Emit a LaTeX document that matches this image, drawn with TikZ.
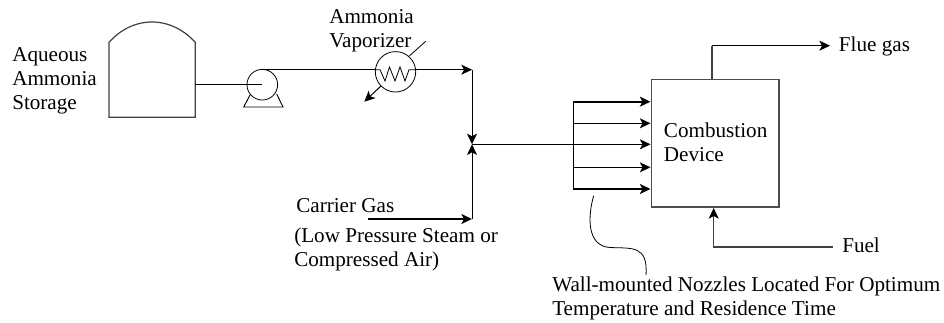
\documentclass[tikz,border=0pt]{standalone}
\usepackage{fontspec}
\setmainfont{Liberation Serif}
\usetikzlibrary{arrows.meta}
\tikzset{
  pipe/.style={draw=black,line width=0.75pt},
  heavy/.style={draw=black,line width=1.3pt},
  flow/.style={-{Stealth[length=8pt,width=7.5pt,inset=2pt]}},
  grayline/.style={draw=black!75,line width=0.9pt},
  lbl/.style={font=\fontsize{15.85pt}{18pt}\selectfont,align=left,inner sep=0pt,anchor=north west},
  unit/.style={draw=black,line width=0.6pt,fill=none,circle,inner sep=0pt}
}
\begin{document}
\begin{tikzpicture}[x=0.75pt,y=-0.75pt]
\useasboundingbox (0,0) rectangle (944,322);
% tank
\coordinate (tankR) at (195.3,84.3);
\draw[grayline] (109,42.3) .. controls (120,30) and (135,22) .. (152,22) .. controls (169,22) and (184,30) .. (195.3,42.3) -- (195.3,117.3) -- (109,117.3) -- cycle;
% pump
\node[unit,minimum size=23pt] (pump) at (262.3,84.7) {};
\coordinate (pumpC) at (262,84.3);
\coordinate (pumpT) at (262,69.7);
\draw[pipe] (tankR) -- (pumpC);
\draw[line width=0.7pt] (250,95) -- (243.7,107) -- (283,107) -- (276.7,94);
% vaporizer
\node[unit,minimum size=30.3pt] (vap) at (395.5,71.8) {};
\coordinate (vapIn) at (375.5,69.7);
\coordinate (vapOut) at (415.7,69.7);
\draw[line width=0.6pt] (vapIn) -- (380,69.7) -- (385,81) -- (389.5,67) -- (395,81) -- (400,67) -- (405,81) -- (409,69.7) -- (vapOut);
\coordinate (vapTail) at (425.7,41.3);
\coordinate (vapA) at (381,86);
\coordinate (vapB) at (364.3,101.7);
\draw[line width=0.6pt] (409.3,56) -- (vapTail);
\draw[pipe,flow] (vapA) -- (vapB);
% main lines
\coordinate (corner) at (472,69.7);
\coordinate (junction) at (472,144.3);
\coordinate (carrierEnd) at (472,219);
\coordinate (carrierStart) at (368,219);
\draw[pipe] (pumpT) -- (vapIn);
\draw[pipe,flow] (vapOut) -- (corner);
\draw[pipe,flow] (corner) -- (junction);
\draw[pipe,flow] (carrierEnd) -- (junction);
\draw[heavy,flow] (carrierStart) -- (carrierEnd);
% box
\node[draw=black!70,line width=0.9pt,minimum width=95.8pt,minimum height=95.8pt,inner sep=0pt] (box) at (715.2,143.2) {};
\node[lbl] at (663.7,123) {Combustion\\Device};
% manifold
\coordinate (m1) at (573.3,101.7);
\coordinate (m2) at (573.3,123.3);
\coordinate (m4) at (573.3,167.3);
\coordinate (m5) at (573.3,189);
\coordinate (b1) at (650.5,101.7);
\coordinate (b2) at (650.5,123.3);
\coordinate (b3) at (650.5,144.3);
\coordinate (b4) at (650.5,167.3);
\coordinate (b5) at (650.5,189);
\draw[pipe] (m1) -- (m5);
\draw[heavy,flow] (m1) -- (b1);
\draw[pipe,flow] (m2) -- (b2);
\draw[pipe,flow] (junction) -- (b3);
\draw[pipe,flow] (m4) -- (b4);
\draw[heavy,flow] (m5) -- (b5);
% flue
\coordinate (flueBase) at (712,79);
\coordinate (flueCorner) at (712,45.7);
\coordinate (flueEnd) at (830,45.7);
\draw[grayline] (flueBase) -- (flueCorner);
\draw[pipe,flow] (flueCorner) -- (flueEnd);
% fuel
\coordinate (fuelStart) at (832.7,247);
\coordinate (fuelCorner) at (713.7,247);
\coordinate (fuelEnd) at (713.7,208);
\draw[grayline,-{Stealth[length=8pt,width=7.5pt,inset=2pt,color=black]}] (fuelStart) -- (fuelCorner) -- (fuelEnd);
% curve
\coordinate (cA) at (593.7,195.7);
\coordinate (cB) at (646,275);
\draw[line width=0.6pt] (cA) .. controls (588,215) and (586,246) .. (610,247.5) .. controls (632,248.5) and (648,245) .. (cB);
% labels
\node[lbl] at (12,47) {Aqueous\\Ammonia\\Storage};
\node[lbl] at (329,9) {Ammonia\\Vaporizer};
\node[lbl] at (296,198) {Carrier Gas};
\node[lbl] at (294,228) {(Low Pressure Steam or\\Compressed Air)};
\node[lbl] at (552,277) {Wall-mounted Nozzles Located For Optimum\\Temperature and Residence Time};
\node[lbl] at (838.7,36.5) {Flue gas};
\node[lbl] at (842,238) {Fuel};
\end{tikzpicture}
\end{document}
